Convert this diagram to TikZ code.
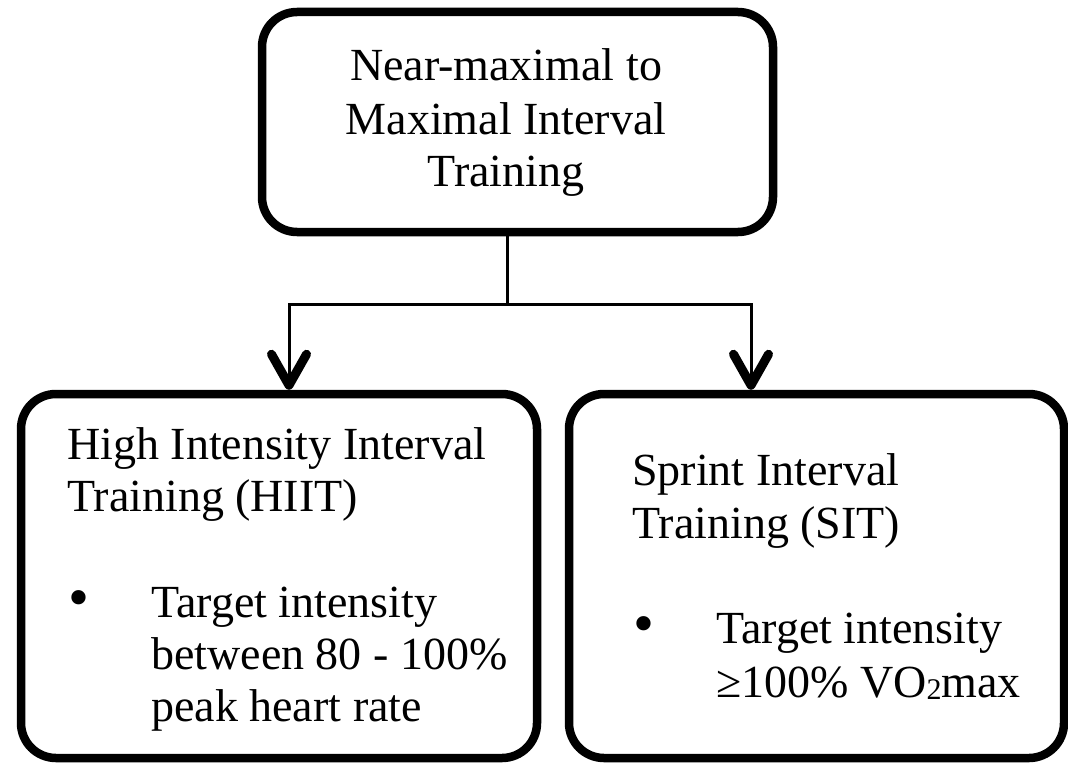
\documentclass[tikz,border=0pt]{standalone}
\usepackage{fontspec}
\setmainfont{Liberation Serif}
\usetikzlibrary{arrows.meta}
\begin{document}
\begin{tikzpicture}[x=1pt,y=-1pt,
  box/.style={draw=black, line width=8.5pt, rounded corners=35pt, inner sep=0pt, fill=white},
  txt/.style={inner sep=0pt, font=\fontsize{46}{52}\selectfont},
  conn/.style={line width=3pt},
  arr/.style={conn, -{Straight Barb[length=31pt,width=35pt,line width=9pt 0,round]}}]
\useasboundingbox (0,0) rectangle (1068,768);
\fill[white] (0,0) rectangle (1068,768);
% boxes
\node[box, minimum width=511pt, minimum height=220pt] (top) at (517.5,122) {};
\node[box, minimum width=516pt, minimum height=364pt] (hiit) at (279,576) {};
\node[box, minimum width=495pt, minimum height=364pt] (sit) at (816.5,576) {};
% top text
\node[txt, anchor=base] (t1) at (506,81) {Near-maximal to};
\node[txt, anchor=base] (t2) at (506,134) {Maximal Interval};
\node[txt, anchor=base] (t3) at (506,186) {Training};
% left text
\node[txt, anchor=base west] (l1) at (67,459) {High Intensity Interval};
\node[txt, anchor=base west] (l2) at (67,511) {Training (HIIT)};
\node[txt, anchor=base west] (lb) at (68,617) {\scalebox{1.3}{•}};
\node[txt, anchor=base west] (l3) at (151,617) {Target intensity};
\node[txt, anchor=base west] (l4) at (151,669) {between 80 - 100\%};
\node[txt, anchor=base west] (l5) at (151,721) {peak heart rate};
% right text
\node[txt, anchor=base west] (r1) at (632,485) {Sprint Interval};
\node[txt, anchor=base west] (r2) at (632,538) {Training (SIT)};
\node[txt, anchor=base west] (rb) at (633,643) {\scalebox{1.3}{•}};
\node[txt, anchor=base west] (r3) at (716,643) {Target intensity};
\node[txt, anchor=base west] (r4) at (716,697) {≥100\% VO{\fontsize{30}{30}\selectfont\raisebox{-2pt}{2}}max};
% connectors
\coordinate (s) at ([xshift=-10.5pt]top.south);
\coordinate (j) at (s |- 0,304);
\draw[conn] (s) -- (j);
\draw[arr] (j) -| ([xshift=10pt]hiit.north);
\draw[arr] (j) -| ([xshift=-65.5pt]sit.north);
\end{tikzpicture}
\end{document}
